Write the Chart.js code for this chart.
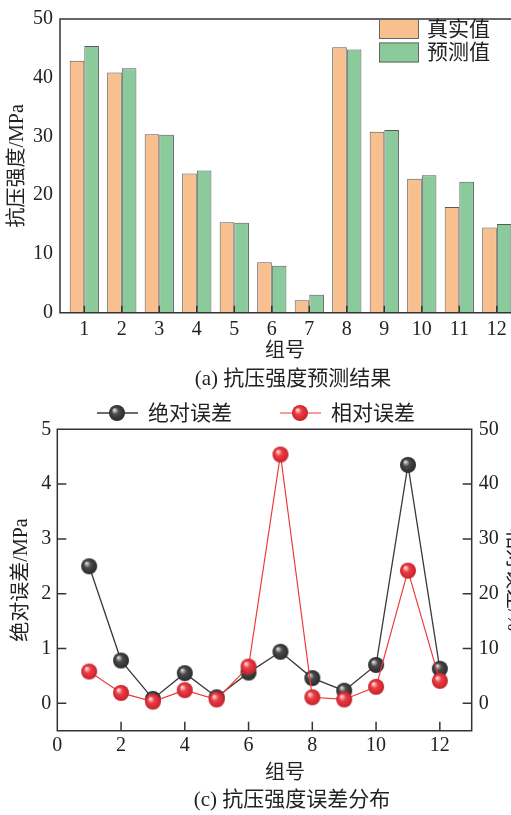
<!DOCTYPE html>
<html>
<head>
<meta charset="utf-8">
<script src="https://cdn.jsdelivr.net/npm/chart.js@4.4.1/dist/chart.umd.min.js"></script>
<style>
    html, body { margin: 0; padding: 0; background: #fff; width: 511px; height: 815px; overflow: hidden; }
    .wrap { position: absolute; left: 0; }
    .caption, .xtitle {
        position: absolute;
        font: 21px "Liberation Serif", "Noto Sans CJK SC", serif;
        color: #222;
        line-height: 1;
        white-space: nowrap;
        transform: translate(-50%, -50%);
    }
    .xtitle { font-size: 20px; }
</style>
</head>
<body>
<div class="wrap" style="top:0"><canvas id="strengthChart" width="540" height="362"></canvas></div>
<div class="xtitle" style="left:285px; top:350px">组号</div>
<div class="caption" style="left:293px; top:378px">(a) 抗压强度预测结果</div>
<div class="wrap" style="top:395px"><canvas id="errorChart" width="540" height="389"></canvas></div>
<div class="xtitle" style="left:285px; top:772px">组号</div>
<div class="caption" style="left:292px; top:799px">(c) 抗压强度误差分布</div>

<script>
// data
const groups = [1, 2, 3, 4, 5, 6, 7, 8, 9, 10, 11, 12];
const actualStrength = [42.9, 40.9, 30.4, 23.7, 15.4, 8.6, 2.1, 45.2, 30.8, 22.8, 18.0, 14.5];
const predictedStrength = [45.4, 41.6, 30.3, 24.2, 15.3, 8.0, 3.05, 44.8, 31.1, 23.4, 22.3, 15.1];
const strengthTicks = [0, 10, 20, 30, 40, 50];

const absError = [2.5, 0.78, 0.08, 0.55, 0.11, 0.56, 0.94, 0.46, 0.23, 0.70, 4.35, 0.63];
const relError = [5.8, 1.9, 0.3, 2.4, 0.7, 6.7, 45.4, 1.1, 0.7, 3.0, 24.2, 4.1];
const groupTicks = [0, 2, 4, 6, 8, 10, 12];
const absTicks = [0, 1, 2, 3, 4, 5];
const relTicks = [0, 10, 20, 30, 40, 50];

const FONT = '"Liberation Serif", "Noto Sans CJK SC", serif';
const TEXT = '#222';
const AXIS = '#333';

Chart.defaults.font.family = FONT;
Chart.defaults.font.size = 20;
Chart.defaults.color = TEXT;

function setTicks(values) {
    return scale => { scale.ticks = values.map(v => ({ value: v })); };
}

function makeBall(light, mid, edge, r) {
    const c = document.createElement('canvas');
    const s = Math.ceil(r * 2 + 2);
    c.width = c.height = s;
    const g = c.getContext('2d');
    const m = s / 2;
    const grad = g.createRadialGradient(m - r * 0.35, m - r * 0.4, r * 0.05, m, m, r);
    grad.addColorStop(0, light);
    grad.addColorStop(0.4, mid);
    grad.addColorStop(1, edge);
    g.fillStyle = grad;
    g.beginPath();
    g.arc(m, m, r, 0, Math.PI * 2);
    g.fill();
    return c;
}

const blackBall = makeBall('#e0e0e0', '#4a4a4a', '#2a2a2a', 8);
const redBall = makeBall('#ffe4e4', '#ee3d45', '#c4222b', 8);

// frame lines and inward ticks
const framePlugin = {
    id: 'frame',
    afterDatasetsDraw(chart, args, opts) {
        const { ctx, chartArea: a } = chart;
        ctx.save();
        ctx.strokeStyle = AXIS;
        ctx.lineWidth = 1.5;
        ctx.beginPath();
        if (opts.sides.includes('top')) { ctx.moveTo(a.left, a.top); ctx.lineTo(a.right, a.top); }
        if (opts.sides.includes('bottom')) { ctx.moveTo(a.left - 0.75, a.bottom); ctx.lineTo(a.right + 0.75, a.bottom); }
        if (opts.sides.includes('left')) { ctx.moveTo(a.left, a.top - 0.75); ctx.lineTo(a.left, a.bottom); }
        if (opts.sides.includes('right')) { ctx.moveTo(a.right, a.top - 0.75); ctx.lineTo(a.right, a.bottom); }
        (opts.ticks || []).forEach(([id, len]) => {
            const sc = chart.scales[id];
            sc.ticks.forEach(t => {
                const p = sc.getPixelForValue(t.value);
                if (sc.axis === 'x') {
                    ctx.moveTo(p, a.bottom); ctx.lineTo(p, a.bottom - len);
                } else if (sc.position === 'left') {
                    ctx.moveTo(a.left, p); ctx.lineTo(a.left + len, p);
                } else {
                    ctx.moveTo(a.right, p); ctx.lineTo(a.right - len, p);
                }
            });
        });
        ctx.stroke();
        ctx.restore();
    }
};

const boxLegendPlugin = {
    id: 'boxLegend',
    afterDraw(chart, args, opts) {
        const { ctx } = chart;
        ctx.save();
        ctx.font = '21px ' + FONT;
        ctx.textBaseline = 'middle';
        chart.data.datasets.forEach((ds, i) => {
            const y = opts.y + i * opts.step;
            ctx.fillStyle = ds.backgroundColor;
            ctx.fillRect(opts.x, y, opts.w, opts.h);
            ctx.strokeStyle = '#666';
            ctx.lineWidth = 1;
            ctx.strokeRect(opts.x + 0.5, y + 0.5, opts.w - 1, opts.h - 1);
            ctx.fillStyle = TEXT;
            ctx.fillText(ds.label, opts.x + opts.w + 8, y + opts.h / 2 + 1);
        });
        ctx.restore();
    }
};

const lineLegendPlugin = {
    id: 'lineLegend',
    afterDraw(chart, args, opts) {
        const { ctx } = chart;
        ctx.save();
        ctx.font = '21px ' + FONT;
        ctx.textBaseline = 'middle';
        opts.items.forEach(item => {
            const ds = chart.data.datasets[item.index];
            ctx.strokeStyle = ds.borderColor;
            ctx.lineWidth = ds.borderWidth;
            ctx.beginPath();
            ctx.moveTo(item.x - 20, opts.y);
            ctx.lineTo(item.x + 21, opts.y);
            ctx.stroke();
            const img = ds.pointStyle;
            ctx.drawImage(img, item.x - img.width / 2, opts.y - img.height / 2);
            ctx.fillStyle = TEXT;
            ctx.fillText(ds.label, item.x + 31, opts.y + 1);
        });
        ctx.restore();
    }
};

const quietGrid = { display: false, drawTicks: false };

function initializeStrengthChart() {
    const el = document.getElementById('strengthChart');
    new Chart(el.getContext('2d'), {
        type: 'bar',
        data: {
            datasets: [{
                label: '真实值',
                data: groups.map((g, i) => ({ x: g, y: actualStrength[i] })),
                backgroundColor: '#f9c08f',
                borderColor: '#5a5a5a',
                borderWidth: 1
            }, {
                label: '预测值',
                data: groups.map((g, i) => ({ x: g, y: predictedStrength[i] })),
                backgroundColor: '#8bcb9b',
                borderColor: '#5a5a5a',
                borderWidth: 1
            }]
        },
        options: {
            responsive: false,
            animation: false,
            layout: { padding: { top: 11, right: 19, left: 0, bottom: 0 } },
            categoryPercentage: 0.78,
            barPercentage: 1,
            plugins: {
                legend: { display: false },
                tooltip: { enabled: false },
                frame: { sides: ['top', 'bottom', 'left'], ticks: [['x', 7]] },
                boxLegend: { x: 379, y: 19, w: 40, h: 20, step: 23.5 }
            },
            scales: {
                x: {
                    type: 'linear',
                    offset: false,
                    min: 0.352,
                    max: 12.645,
                    afterBuildTicks: setTicks(groups),
                    afterFit: s => { s.height = 49.3; },
                    grid: quietGrid,
                    border: { display: false },
                    ticks: { padding: 5, maxRotation: 0, autoSkip: false, color: TEXT }
                },
                y: {
                    min: 0,
                    max: 50,
                    afterBuildTicks: setTicks(strengthTicks),
                    afterFit: s => { s.width = 60; },
                    grid: quietGrid,
                    border: { display: false },
                    ticks: { padding: 7, color: TEXT },
                    title: { display: true, text: '抗压强度/MPa', padding: { top: 6, bottom: 0 }, color: TEXT }
                }
            }
        },
        plugins: [framePlugin, boxLegendPlugin]
    });
}

function initializeErrorChart() {
    const el = document.getElementById('errorChart');
    new Chart(el.getContext('2d'), {
        type: 'line',
        data: {
            datasets: [{
                label: '相对误差',
                data: groups.map((g, i) => ({ x: g, y: relError[i] })),
                yAxisID: 'y2',
                borderColor: '#ee3a3a',
                borderWidth: 1.2,
                pointStyle: redBall,
                pointRadius: 8,
                order: 0
            }, {
                label: '绝对误差',
                data: groups.map((g, i) => ({ x: g, y: absError[i] })),
                yAxisID: 'y',
                borderColor: '#3a3a3a',
                borderWidth: 1.3,
                pointStyle: blackBall,
                pointRadius: 8,
                order: 1
            }]
        },
        options: {
            responsive: false,
            animation: false,
            layout: { padding: { top: 34.3, right: 0, left: 0, bottom: 0 } },
            plugins: {
                legend: { display: false },
                tooltip: { enabled: false },
                frame: { sides: ['top', 'bottom', 'left', 'right'], ticks: [['x', 9], ['y', 9], ['y2', 9]] },
                lineLegend: { y: 18, items: [{ index: 1, x: 117 }, { index: 0, x: 300 }] }
            },
            scales: {
                x: {
                    type: 'linear',
                    min: 0,
                    max: 13,
                    afterBuildTicks: setTicks(groupTicks),
                    afterFit: s => { s.height = 53.3; },
                    grid: quietGrid,
                    border: { display: false },
                    ticks: { padding: 3, maxRotation: 0, autoSkip: false, color: TEXT }
                },
                y: {
                    position: 'left',
                    min: -0.5,
                    max: 5,
                    afterBuildTicks: setTicks(absTicks),
                    afterFit: s => { s.width = 57.3; },
                    grid: quietGrid,
                    border: { display: false },
                    ticks: { padding: 6, color: TEXT },
                    title: { display: true, text: '绝对误差/MPa', padding: { top: 10, bottom: 0 }, color: TEXT }
                },
                y2: {
                    position: 'right',
                    min: -5,
                    max: 50,
                    afterBuildTicks: setTicks(relTicks),
                    afterFit: s => { s.width = 68.3; },
                    grid: quietGrid,
                    border: { display: false },
                    ticks: { padding: 7, color: TEXT },
                    title: { display: true, text: '相对误差/%', padding: { top: 15, bottom: 0 }, color: TEXT }
                }
            }
        },
        plugins: [framePlugin, lineLegendPlugin]
    });
}

document.addEventListener('DOMContentLoaded', () => {
    initializeStrengthChart();
    initializeErrorChart();
});
</script>
</body>
</html>
